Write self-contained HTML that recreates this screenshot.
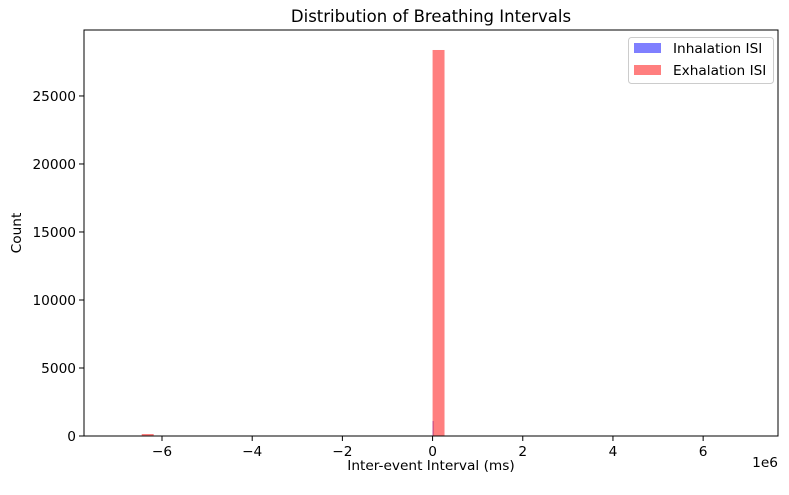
<!DOCTYPE html>
<html><head><meta charset="utf-8"><style>
body{margin:0;background:#fff;font-family:"Liberation Sans","DejaVu Sans",sans-serif;}
svg text{font-family:"DejaVu Sans","Liberation Sans",sans-serif;}
</style></head><body>
<svg id="c" width="789" height="490" xmlns="http://www.w3.org/2000/svg"></svg>
<script>
const xTicks=[-6,-4,-2,0,2,4,6];
const yTicks=[0,5000,10000,15000,20000,25000];
const inhBinStart=[0];
const inhBinWidth=0.02;
const inhCounts=[1100];
const exhBinStart=[-6.45,0];
const exhBinWidth=0.265;
const exhCounts=[60,28380];
const seriesNames=["Inhalation ISI","Exhalation ISI"];

const L=84,R=778,T=30,B=436;
const xMin=-7.73,xMax=7.66,yMin=0,yMax=29850;
const FS=13.7;
const sx=v=>L+(v-xMin)/(xMax-xMin)*(R-L);
const sy=v=>B-(v-yMin)/(yMax-yMin)*(B-T);
const svg=document.getElementById('c');
const NS="http://www.w3.org/2000/svg";
function mk(t,a,p){const e=document.createElementNS(NS,t);for(const k in a)e.setAttribute(k,a[k]);(p||svg).appendChild(e);return e;}

let t=mk('text',{x:(L+R)/2,y:22,'text-anchor':'middle','font-size':16.5});t.textContent="Distribution of Breathing Intervals";



inhBinStart.forEach((s,i)=>{
 const r=mk('rect',{x:sx(s),y:sy(inhCounts[i]),width:Math.max(1,sx(s+inhBinWidth)-sx(s)),height:sy(0)-sy(inhCounts[i]),fill:'#0000ff','fill-opacity':0.5});
 
 
});
exhBinStart.forEach((s,i)=>{
 const h=Math.max(2,sy(0)-sy(exhCounts[i]));
 const r=mk('rect',{x:sx(s),y:sy(0)-h,width:sx(s+exhBinWidth)-sx(s),height:h,fill:'#ff0000','fill-opacity':0.5});
 
 
});

const frame=mk('rect',{x:L,y:T,width:R-L,height:B-T,fill:'none',stroke:'#000','stroke-width':1});



xTicks.forEach(v=>{
 const x=sx(v);
 mk('line',{x1:x,x2:x,y1:B,y2:B+5,stroke:'#000'});
 const tx=mk('text',{x:x,y:B+20,'text-anchor':'middle','font-size':FS});
 tx.textContent=(v<0?'\u2212'+(-v):v);
 
 
});
yTicks.forEach(v=>{
 const y=sy(v);
 mk('line',{x1:L-5,x2:L,y1:y,y2:y,stroke:'#000'});
 const ty=mk('text',{x:L-8,y:y+5,'text-anchor':'end','font-size':FS});
 ty.textContent=v;
 
 
});
let e=mk('text',{x:R,y:B+31,'text-anchor':'end','font-size':FS});e.textContent="1e6";


let xl=mk('text',{x:(L+R)/2,y:B+34,'text-anchor':'middle','font-size':FS});xl.textContent="Inter-event Interval (ms)";


let yl=mk('text',{x:0,y:0,'text-anchor':'middle','font-size':FS,transform:`translate(21,${(T+B)/2}) rotate(-90)`});yl.textContent="Count";



const lg=mk('g',{});


mk('rect',{x:628.5,y:37.5,width:145,height:46,rx:3,fill:'#fff',stroke:'#ccc'},lg);
const cols=['#0000ff','#ff0000'];
seriesNames.forEach((n,i)=>{
 const g=mk('g',{},lg);
 
 
 mk('rect',{x:634,y:43+i*22,width:27,height:10,fill:cols[i],'fill-opacity':0.5},g);
 const tt=mk('text',{x:673,y:53+i*22,'font-size':FS},g);tt.textContent=n;
});
</script>
</body></html>
